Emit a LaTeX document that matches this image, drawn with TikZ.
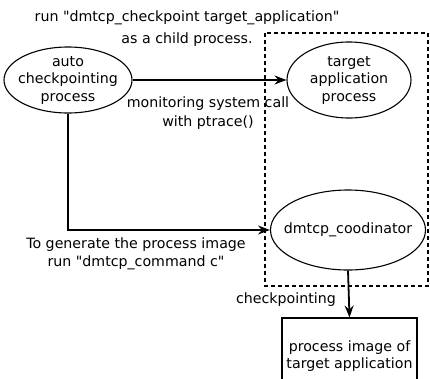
\documentclass[tikz,border=0pt]{standalone}
\usepackage{fontspec}
\setmainfont{DejaVu Sans}
\usetikzlibrary{shapes.geometric,arrows.meta}

\tikzset{
	proc/.style={draw, ellipse, line width=1.1pt, align=center, inner sep=0pt},
	flow/.style={line width=1.8pt, -{Stealth[length=12pt, width=9pt, inset=4pt]}},
	lbl/.style={align=center, inner sep=0pt}
}

\begin{document}
\begin{tikzpicture}[x=1pt, y=-1pt, font=\fontsize{14.2}{17.5}\selectfont]
			\useasboundingbox (0, 0) rectangle (430, 378);

			% the part that runs under dmtcp
			\draw [line width=1.2pt, dash pattern=on 4pt off 3pt] (265, 33) rectangle (428, 286);

			\node [proc, inner xsep=-8pt, inner ysep=-3pt, minimum width=128, minimum height=66] (auto) at (68, 80) {auto\\checkpointing\\process};
			\node [proc, minimum width=124, minimum height=76] (target) at (349, 80) {target\\application\\process};
			\node [proc, inner xsep=-11pt, minimum width=155, minimum height=80] (coord) at (348, 230) {dmtcp\_coodinator};
			\node [draw, line width=1.1pt, minimum width=135, minimum height=76, align=center] (image) at (349.5, 356) {process image of\\target application};

			\draw [flow] (auto) -- (target);
			\draw [flow] (auto.south) |- (coord.west);
			\draw [flow] (coord.south) -- (image.north);

			\node [lbl, font=\fontsize{14.2}{22}\selectfont] (run) at (187, 29) {run \textquotedbl dmtcp\_checkpoint target\_application\textquotedbl\\as a child process.};
			\node [lbl, font=\fontsize{14.2}{19}\selectfont] (mon) at (208, 113) {monitoring system call\\with ptrace()};
			\node [lbl] (gen) at (136, 254) {To generate the process image\\run \textquotedbl dmtcp\_command c\textquotedbl};
			\node [lbl, anchor=east] (ckpt) at (336, 300) {checkpointing};
		\end{tikzpicture}
\end{document}
